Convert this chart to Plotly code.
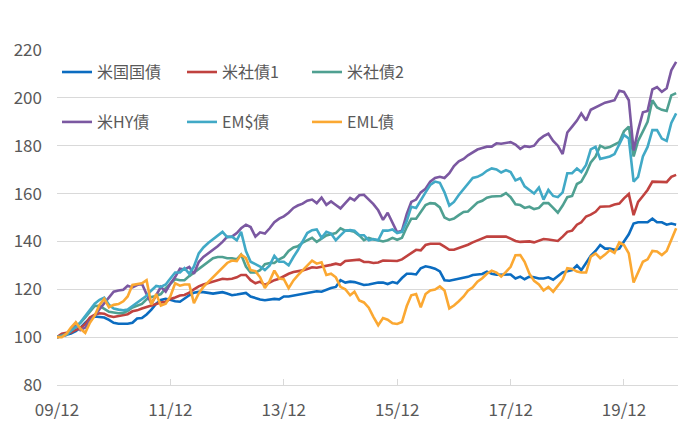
import pandas as pd
import plotly.graph_objects as go

start_month = "2009-12-01"
tick_dates = ["2009-12-01", "2011-12-01", "2013-12-01", "2015-12-01", "2017-12-01", "2019-12-01"]
tick_labels = ["09/12", "11/12", "13/12", "15/12", "17/12", "19/12"]

us_tsy = [100, 100.5, 101, 101.5, 102.5, 104, 106, 107.7, 108.6, 108.5, 108.2, 107.2, 106, 105.6, 105.6, 105.6, 106, 107.8, 108, 109.5, 111.5, 114, 115.5, 116, 115.6, 115, 114.8, 116.2, 117.5, 118.6, 118.9, 118.8, 118.5, 118.2, 118.5, 118.8, 118.2,
          117.5, 117.8, 118.2, 118.5, 117, 116.2, 115.7, 115.4, 115.6, 116, 115.8, 117, 117, 117.4, 117.6, 118.1, 118.4, 118.8, 119.2, 119, 119.8, 120.5, 121, 123.8, 122.8, 123.2, 123, 122.4, 121.8, 122, 122.5, 122.8, 122.8, 122.2,
          123, 122.5, 124.7, 126.5, 126.5, 126.2, 128.8, 129.6, 129.2, 128.6, 127.5, 123.8, 123.6, 124, 124.4, 124.7, 125.2, 126, 126.1, 126.4, 127.4, 126.5, 126.1, 126.1, 126.1, 126.2, 124.5, 125.3, 124.2,
          125.3, 125, 124.5, 124.5, 125, 124, 125.5, 127, 127.5, 128, 130, 128, 131, 134, 136, 138.5, 137, 137, 136.5, 137, 140, 143, 147.5, 148, 148, 148, 149.5, 148, 148, 147, 147.5, 147]

us_corp1 = [100, 101.4, 101.8, 102, 103, 103.8, 105.5, 108.2, 109.4, 110, 109.8, 108.8, 108.4, 108.8, 109.3, 109.6, 110.8, 111.2, 112, 112.6, 113.3, 114, 114.5, 114.8, 116, 116.6, 117.4, 117.6, 118.6, 120, 121.2, 122, 122.6, 123.4, 124, 124.4, 124.2,
            124.4, 125, 126, 126, 123.8, 122.5, 123.2, 121.8, 123, 123.8, 124.4, 125.5, 126.5, 127.2, 127.4, 127.9, 128.5, 129.2, 129, 129.3, 129.6, 130.2, 130.7, 130.2, 131.8, 132, 132.1, 132.4, 131.4, 131.4, 131, 131.2, 132, 132,
            132, 131.8, 132.5, 133.8, 135.3, 136.5, 136.3, 138.5, 139, 139, 139, 137.8, 136.5, 136.5, 137.2, 137.9, 138.6, 139.6, 140.3, 141, 142, 142, 142, 141.8, 142, 141.2, 140.2, 139.8, 140,
            140, 139.6, 140.2, 141, 140.8, 140.5, 140.2, 142, 144, 144.5, 147, 148, 150.4, 151.2, 152.4, 154.5, 154.5, 154.7, 155.4, 155.8, 158, 159.8, 151, 156.5, 159, 161.5, 165, 165, 164.8, 164.8, 167, 167.8]

us_corp2 = [100, 100.6, 101.3, 102.7, 104.2, 106, 108.2, 110.8, 113, 113.1, 111.9, 110.6, 110.3, 110, 110.1, 111, 112.4, 113.2, 113.9, 115.8, 116.8, 117.2, 118, 120.5, 122.5, 124.2, 123.8, 123.8, 125.5, 127, 128.2, 129.8, 131.4, 133, 133.5, 133.5, 133,
            133, 132.5, 134.5, 129.5, 127, 127, 128, 130.5, 131, 131, 132.5, 133.5, 136, 137.5, 138, 139.5, 140.5, 141.5, 139.8, 141, 142.5, 143, 143.5, 145.5, 144.5, 144.5, 144, 142.5, 140.5, 141.5, 140.8, 140.5, 140, 140.5, 141.5, 140.7,
            141.5, 146, 149.5, 149.5, 152.3, 155.2, 156, 155.8, 154.2, 150, 149, 149.6, 151, 152.3, 152.5, 154.5, 156.2, 157, 158.3, 158.8, 158.8, 159, 160.2, 158.5, 155.5, 155.2, 154,
            154.5, 153.5, 154, 156, 156, 154, 152, 155, 158.5, 159, 164, 165, 168.5, 173, 175.5, 180, 179, 179.5, 180.5, 181.5, 186, 188, 175.5, 182, 186, 190, 199, 196, 195, 194.5, 201, 202]

us_hy = [100, 100.5, 101, 103, 106, 103, 104, 107, 109, 111.7, 114, 116.5, 119, 119.5, 119.8, 121.5, 120.8, 121.8, 122.3, 118, 114, 117.5, 121, 119, 122.3, 125.1, 128.6, 128.3, 129.3, 126.5, 131.4, 133.5, 134.9, 136.3, 138, 139.8, 141.9,
         142, 143.5, 145.5, 147, 146, 142, 143.8, 143.3, 145.5, 148, 149.5, 150.5, 152, 154, 155, 155.8, 157, 157.5, 156, 158.3, 155.3, 156.7, 155.2, 153.8, 156, 158.2, 157.2, 159.3, 159.5, 157.5, 155.6, 153, 149, 152, 147.5, 143.8,
         144.5, 151.5, 156.5, 157.5, 160.5, 162, 165, 166.5, 167, 166.5, 168.5, 171.5, 173.5, 174.5, 176, 177.2, 178.4, 179, 179.6, 179.6, 181, 180.8, 181, 181.5, 180.5, 178.7, 179.8,
         179.5, 180, 182.5, 184, 185, 182, 180, 176.5, 185.5, 188, 190.5, 193.5, 190.5, 195, 196, 197, 198, 198.5, 199, 203, 202.5, 199, 178, 186.5, 194, 194.5, 203.5, 204.5, 202.5, 204, 211.5, 215]

em_usd = [100, 100.6, 101, 102.7, 104.2, 106.2, 108.8, 111.5, 114, 115.6, 116.5, 113.5, 112, 111.5, 111.2, 111.5, 113, 114.5, 116, 117.3, 119.5, 121.4, 121, 122, 124.5, 127, 127, 128.8, 126.5, 129.5, 135, 137.5, 139.3, 141, 142.5, 144, 141.8,
          142, 140.5, 144, 136, 131.5, 130.5, 129.5, 128, 130, 134, 131.5, 131.5, 130, 133.5, 136.3, 140, 143.5, 144.7, 145, 141.5, 144, 143.3, 140.5, 142.5, 144.5, 144.7, 144.5, 142.6, 142.6, 140.5, 141, 140.5, 144.5, 144.5,
          145, 143.5, 144, 148.5, 154.5, 154, 157.5, 160.5, 163.6, 165, 164.5, 160.5, 155, 156.5, 159.4, 162, 164, 166.5, 167, 168, 169.5, 170.5, 170.1, 168.8, 169.8, 169, 165.5, 166.4, 163,
          161.5, 160, 162.5, 157.5, 161.5, 159, 158.5, 160.5, 168.5, 168.5, 170.5, 169, 172, 178.5, 179.5, 174.5, 175, 175.5, 176.5, 180.5, 184.5, 183, 165, 167, 175.5, 179.5, 186.5, 186.5, 183, 182, 189.5, 193.5]

em_local = [100, 100, 101.5, 104, 106.2, 103.5, 101.8, 106, 109, 113.5, 116, 112.5, 113.5, 113.8, 115, 117, 121.8, 122, 122.5, 123.8, 113.5, 118, 113.2, 114, 117, 122.5, 121.5, 122, 122, 114.2, 118.3, 121, 123, 125, 126.8, 128.8, 131,
            132, 131.8, 134.5, 133, 128, 127.6, 125, 120.5, 123.5, 127.8, 124.5, 124.2, 120.5, 123.7, 125.8, 127.8, 130, 132, 130.7, 131.3, 126, 126.5, 125, 121, 120, 117.5, 119, 115.3, 114.5, 112.3, 108.5, 105, 108, 107.3,
            105.8, 105.5, 106.3, 113, 117.5, 118, 112.5, 118, 119.5, 119.9, 121.2, 119.5, 112, 113.2, 115, 117, 119.4, 120.8, 123.2, 124.6, 126.5, 127.8, 127, 125.3, 127.3, 129.4, 134.2, 134.3, 131.5,
            126.5, 123.5, 122, 119.5, 121, 119, 121.5, 124, 128.8, 128.5, 127.4, 127, 127, 133.6, 135, 133, 134.5, 136.4, 135.2, 139.6, 138.5, 135, 122.8, 127.4, 131.5, 132.5, 136, 135.8, 134.3, 136, 140.6, 145.5]

series = [
    ("米国国債", us_tsy, "#0B6CC0", "legend"),
    ("米社債1", us_corp1, "#C0423F", "legend"),
    ("米社債2", us_corp2, "#4FA091", "legend"),
    ("米HY債", us_hy, "#7B58A1", "legend2"),
    ("EM$債", em_usd, "#41A9C6", "legend2"),
    ("EML債", em_local, "#FBA832", "legend2"),
]

FONT = "Noto Sans CJK JP, Noto Sans, sans-serif"
GREY = "#595959"

fig = go.Figure()
for name, vals, color, lg in series:
    dates = pd.date_range(start_month, periods=len(vals), freq="MS")
    fig.add_trace(go.Scatter(x=dates, y=vals, mode="lines", name=name,
                             line=dict(color=color, width=2.6), legend=lg))

legend_common = dict(orientation="h", xanchor="left", yanchor="middle",
                     entrywidth=80, entrywidthmode="pixels", itemwidth=30,
                     bgcolor="rgba(0,0,0,0)", font=dict(family=FONT, size=16, color=GREY),
                     traceorder="normal")

# page body adds an 8px offset, so margins are compensated
fig.update_layout(
    width=700, height=441,
    margin=dict(l=49, r=30, t=42, b=64),
    paper_bgcolor="white", plot_bgcolor="white",
    font=dict(family=FONT, size=16, color=GREY),
    showlegend=True,
    legend=dict(x=0.0, y=0.934, **legend_common),
    legend2=dict(x=0.0, y=0.785, **legend_common),
    xaxis=dict(type="date", range=["2009-12-01", "2020-11-13"],
               tickvals=tick_dates, ticktext=tick_labels,
               showgrid=False, showline=True, linecolor="#D9D9D9", linewidth=1,
               ticks="inside", ticklen=6, tickcolor="#D9D9D9", tickwidth=1,
               ticklabelstandoff=10, zeroline=False, automargin=False,
               tickfont=dict(family=FONT, size=17, color=GREY)),
    yaxis=dict(range=[80, 220], dtick=20, tick0=80,
               showgrid=True, gridcolor="#D9D9D9", gridwidth=1,
               showline=False, zeroline=False, ticks="", automargin=False,
               ticklabelstandoff=14,
               tickfont=dict(family=FONT, size=17, color=GREY)),
)

fig.write_html("out.html")
